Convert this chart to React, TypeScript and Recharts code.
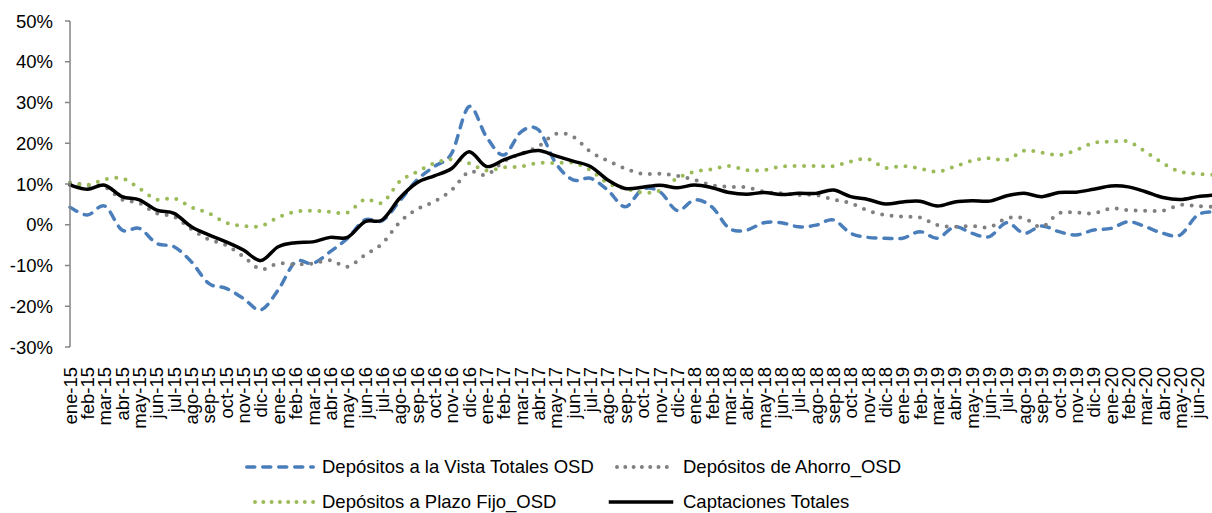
import React from 'react';
import { LineChart, Line, XAxis, YAxis } from 'recharts';

// Category labels (the last point, jul-20, lies on the cropped right edge and has no visible label)
const months = [
  'ene-15', 'feb-15', 'mar-15', 'abr-15', 'may-15', 'jun-15', 'jul-15', 'ago-15', 'sep-15', 'oct-15', 'nov-15', 'dic-15',
  'ene-16', 'feb-16', 'mar-16', 'abr-16', 'may-16', 'jun-16', 'jul-16', 'ago-16', 'sep-16', 'oct-16', 'nov-16', 'dic-16',
  'ene-17', 'feb-17', 'mar-17', 'abr-17', 'may-17', 'jun-17', 'jul-17', 'ago-17', 'sep-17', 'oct-17', 'nov-17', 'dic-17',
  'ene-18', 'feb-18', 'mar-18', 'abr-18', 'may-18', 'jun-18', 'jul-18', 'ago-18', 'sep-18', 'oct-18', 'nov-18', 'dic-18',
  'ene-19', 'feb-19', 'mar-19', 'abr-19', 'may-19', 'jun-19', 'jul-19', 'ago-19', 'sep-19', 'oct-19', 'nov-19', 'dic-19',
  'ene-20', 'feb-20', 'mar-20', 'abr-20', 'may-20', 'jun-20', 'jul-20',
];
const shownLabels = months.slice(0, 66);

const yTicks = [-30, -20, -10, 0, 10, 20, 30, 40, 50];

// Series values (%)
const vista = [
  4.3, 2.4, 4.6, -1.3, -0.9, -4.6, -5.4, -9.1, -14.4, -15.6,
  -18.1, -20.9, -16.0, -9.1, -9.5, -6.6, -3.3, 1.2, 1.0, 5.8,
  11.0, 14.3, 17.5, 29.0, 21.6, 17.1, 22.8, 23.3, 15.1, 11.0,
  11.4, 8.5, 4.4, 8.7, 8.1, 3.5, 6.1, 4.4, -0.9, -1.3,
  0.5, 0.5, -0.5, -0.1, 1.2, -2.1, -3.1, -3.3, -3.3, -1.7,
  -3.3, -0.5, -2.1, -2.9, 0.5, -2.1, -0.3, -1.7, -2.5, -1.3,
  -0.9, 0.75, -0.5, -2.1, -2.5, 2.4, 3.2,
];
const ahorro = [
  10.3, 9.75, 9.3, 6.2, 5.3, 2.8, 2.0, -1.1, -3.6, -5.0,
  -7.8, -10.9, -9.5, -9.7, -9.5, -8.7, -10.3, -7.4, -4.6, 0.6,
  3.8, 5.7, 8.5, 13.0, 12.2, 15.5, 17.4, 19.2, 22.3, 21.6,
  17.9, 15.7, 13.8, 12.5, 12.5, 12.0, 11.0, 9.7, 9.3, 9.2,
  8.1, 7.7, 7.3, 7.3, 6.2, 5.3, 3.45, 2.4, 2.0, 1.8,
  -0.1, -0.5, -0.3, -0.6, 1.6, 1.6, -0.5, 2.8, 3.0, 2.8,
  4.0, 3.6, 3.45, 3.45, 4.85, 4.6, 4.4,
];
const plazo = [
  10.3, 9.75, 11.1, 11.4, 8.9, 6.2, 6.5, 4.3, 2.8, 0.5,
  -0.3, -0.3, 1.8, 3.2, 3.45, 3.2, 3.0, 6.2, 5.4, 10.6,
  13.0, 15.1, 16.1, 15.1, 13.3, 14.1, 14.3, 15.2, 15.1, 15.2,
  13.4, 10.2, 8.9, 7.9, 8.4, 11.4, 13.0, 13.6, 14.4, 13.4,
  13.4, 14.3, 14.4, 14.4, 14.4, 15.5, 16.1, 14.0, 14.4, 13.8,
  13.0, 14.3, 15.7, 16.3, 15.9, 18.2, 17.7, 17.1, 18.3, 20.1,
  20.4, 20.4, 17.9, 15.1, 13.0, 12.5, 12.2,
];
const captaciones = [
  9.75, 8.7, 9.7, 6.9, 6.1, 3.6, 2.8, -0.5, -2.5, -4.2,
  -6.2, -8.8, -5.4, -4.4, -4.2, -3.1, -3.1, 0.75, 1.2, 6.5,
  10.3, 12.0, 13.8, 17.9, 14.3, 15.9, 17.4, 18.2, 16.9, 15.6,
  14.3, 11.0, 8.9, 9.2, 9.7, 9.1, 9.75, 9.1, 7.9, 7.5,
  7.9, 7.4, 7.7, 7.7, 8.5, 6.9, 6.2, 5.1, 5.6, 5.75,
  4.6, 5.6, 5.9, 5.8, 7.1, 7.7, 6.9, 7.9, 8.0, 8.7,
  9.5, 9.3, 8.1, 6.7, 6.2, 6.9, 7.3,
];

const data = months.map((m, i) => ({
  m,
  vista: vista[i],
  ahorro: ahorro[i],
  plazo: plazo[i],
  captaciones: captaciones[i],
}));

const FONT = '"Liberation Sans", Arial, sans-serif';
const FS = 18.5;

const series = [
  { key: 'vista', name: 'Depósitos a la Vista Totales OSD', color: '#4A7EBB', dash: '8 8', width: 3.5, dotted: false },
  { key: 'ahorro', name: 'Depósitos de Ahorro_OSD', color: '#808080', dash: '0 9.5', width: 4, dotted: true },
  { key: 'plazo', name: 'Depósitos a Plazo Fijo_OSD', color: '#9BBB59', dash: '0 9.5', width: 4, dotted: true },
  { key: 'captaciones', name: 'Captaciones Totales', color: '#000000', dash: undefined, width: 3.5, dotted: false },
];

// Excel-like smoothing (uniform Catmull-Rom as cubic Bezier)
const smoothCurve: any = (context: any) => {
  let pts: number[][] = [];
  return {
    areaStart() {},
    areaEnd() {},
    lineStart() { pts = []; },
    lineEnd() {
      if (!pts.length) return;
      context.moveTo(pts[0][0], pts[0][1]);
      for (let i = 0; i < pts.length - 1; i++) {
        const p0 = pts[i - 1] || pts[i];
        const p1 = pts[i];
        const p2 = pts[i + 1];
        const p3 = pts[i + 2] || p2;
        context.bezierCurveTo(
          p1[0] + (p2[0] - p0[0]) / 6, p1[1] + (p2[1] - p0[1]) / 6,
          p2[0] - (p3[0] - p1[0]) / 6, p2[1] - (p3[1] - p1[1]) / 6,
          p2[0], p2[1]
        );
      }
    },
    point(x: number, y: number) { pts.push([+x, +y]); },
  };
};

const XTick = (props: any) => {
  const { x, y, payload } = props;
  if (!shownLabels.includes(payload.value)) return null;
  const ty = y + 12;
  return (
    <text
      x={x}
      y={ty}
      transform={`rotate(-90 ${x} ${ty})`}
      textAnchor="end"
      dy="0.36em"
      fontSize={FS}
      fontFamily={FONT}
      fill="#000"
    >
      {payload.value}
    </text>
  );
};

const legendLayout = [
  { left: 245, sampleW: 70, textLeft: 322, cy: 467 },
  { left: 607, sampleW: 68, textLeft: 683, cy: 467 },
  { left: 245, sampleW: 70, textLeft: 322, cy: 502 },
  { left: 607, sampleW: 68, textLeft: 683, cy: 502 },
];

export default function App() {
  return (
    <div style={{ position: 'absolute', left: 0, top: 0, width: 1212, height: 513, overflow: 'hidden', background: '#fff' }}>
      <LineChart
        width={1216}
        height={513}
        data={data}
        margin={{ top: 21, right: 1, bottom: 106, left: 0 }}
      >
        <XAxis
          dataKey="m"
          interval={0}
          axisLine={false}
          tickLine={false}
          tick={<XTick />}
          height={60}
          padding={{ left: 0, right: 0 }}
        />
        <YAxis
          domain={[-30, 50]}
          ticks={yTicks}
          tickFormatter={(v: number) => `${v}%`}
          width={70}
          axisLine={{ stroke: '#868686', strokeWidth: 1.5 }}
          tickLine={{ stroke: '#868686', strokeWidth: 1.5 }}
          tickSize={5}
          tickMargin={12}
          tick={{ fontSize: FS, fontFamily: FONT, fill: '#000' }}
          allowDataOverflow
        />
        {series.map((s) => (
          <Line
            key={s.key}
            dataKey={s.key}
            name={s.name}
            type={smoothCurve}
            stroke={s.color}
            strokeWidth={s.width}
            strokeDasharray={s.dash}
            strokeLinecap="round"
            dot={false}
            activeDot={false}
            isAnimationActive={false}
          />
        ))}
      </LineChart>
      {series.map((s, i) => {
        const L = legendLayout[i];
        return (
          <React.Fragment key={s.key}>
            <svg
              width={L.sampleW + 4}
              height={8}
              style={{ position: 'absolute', left: L.left - 2, top: L.cy - 4 }}
            >
              <line
                x1={s.dotted ? 12 : 3.75}
                y1={4}
                x2={L.sampleW + 2 - 1.75}
                y2={4}
                stroke={s.color}
                strokeWidth={s.width}
                strokeDasharray={s.dotted ? '0 8.3' : s.dash}
                strokeLinecap={s.dash ? 'round' : 'butt'}
              />
            </svg>
            <div
              style={{
                position: 'absolute',
                left: L.textLeft,
                top: L.cy - 11,
                height: 22,
                lineHeight: '22px',
                fontSize: FS,
                fontFamily: FONT,
                color: '#000',
                whiteSpace: 'nowrap',
              }}
            >
              {s.name}
            </div>
          </React.Fragment>
        );
      })}
    </div>
  );
}
